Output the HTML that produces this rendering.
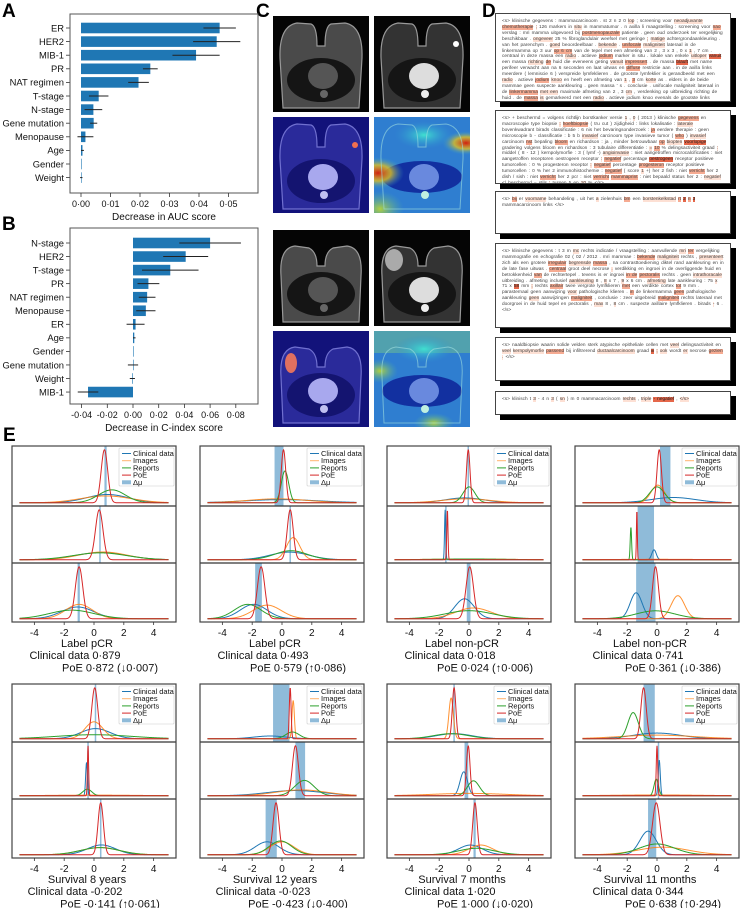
<!DOCTYPE html>
<html><head><meta charset="utf-8">
<style>
body{margin:0;background:#fff;}
#root{position:relative;width:740px;height:908px;overflow:hidden;font-family:"Liberation Sans",sans-serif;background:#fff;}
.pl{position:absolute;font-weight:bold;font-size:19px;color:#000;}
.box{position:absolute;left:495px;width:222px;border:1px solid #444;background:#fff;box-shadow:5px 5px 0 #000;padding:5px 6px;font-size:4.75px;line-height:5.9px;color:#444;word-spacing:0.8px;overflow:hidden;}
.a{background:#fde0d4;}.b{background:#f6ab92;}.c{background:#e5674a;color:#222;}
svg{position:absolute;left:0;top:0;}
</style></head><body>
<div id="root">
<div class="pl" style="left:2px;top:1px">A</div>
<div class="pl" style="left:2px;top:214px">B</div>
<div class="pl" style="left:256px;top:1px">C</div>
<div class="pl" style="left:482px;top:1px">D</div>
<div class="pl" style="left:3px;top:425px">E</div>

<svg id="mri" width="740" height="908">
<defs>
<clipPath id="imgClip"><rect x="0" y="0" width="96" height="96"/></clipPath>
<radialGradient id="rRed" cx="50%" cy="50%" r="50%"><stop offset="0" stop-color="#d02010"/><stop offset=".5" stop-color="#e0c020" stop-opacity=".8"/><stop offset="1" stop-color="#30a0d0" stop-opacity="0"/></radialGradient>
<radialGradient id="rCyan" cx="50%" cy="50%" r="50%"><stop offset="0" stop-color="#40e0d0"/><stop offset="1" stop-color="#3090d0" stop-opacity="0"/></radialGradient>
<radialGradient id="rYel" cx="50%" cy="50%" r="50%"><stop offset="0" stop-color="#b0d040"/><stop offset="1" stop-color="#50b0a0" stop-opacity="0"/></radialGradient>
<path id="torso" d="M10,92 L7,42 Q6,10 24,7 L38,8 Q44,10 44,30 L52,30 Q52,10 58,8 L72,7 Q90,10 89,42 L86,92 Z"/>
<path id="torso2" d="M10,92 L8,46 Q6,18 22,16 L36,18 Q44,22 44,36 L52,36 Q52,22 60,18 L74,16 Q90,18 88,46 L86,92 Z"/>
</defs>
</svg>

<div class="box" style="top:13px;height:77px">&lt;s&gt; klinische gegevens : mammacarcinoom . st 2 n 2 0 <span class="a">lop</span> ; screening voor <span class="a">neoadjuvante</span> <span class="b">chemotherapie</span> <span class="a">;</span> 126 markers in <span class="a">situ</span> in mammatumor . n axilla li maagstelling : screening voor <span class="b">nao</span> verslag : mri mamma uitgevoerd bij <span class="b">postmenopauzale</span> patiente . geen oud onderzoek ter vergelijking beschikbaar . <span class="a">ongeveer</span> 25 % fibroglandulair weefsel met geringe <span class="a">;</span> <span class="a">matige</span> achtergrondaankleuring . van het parenchym . <span class="a">goed</span> beoordeelbaar . <span class="a">bekende</span> . <span class="b">unifocale</span> <span class="a">maligniteit</span> lateraal in de linkermamma op 3 uur <span class="b">op 6 cm</span> van de tepel met een afmeting van 2 , 3 x 3 , 0 x <span class="a">1</span> , 7 cm . centraal in deze massa een <span class="a">radio</span> . actieve <span class="b">jodium</span> marker in situ . lokale van enkele <span class="a">uitloper</span> <span class="c">vanuit</span> een massa <span class="a">richting</span> <span class="b">de</span> huid die eveneens geting <span class="a">vanuit</span> <span class="b">impressert</span> . de massa <span class="c">blauft</span> met name perifeer verwacht aan na 6 seconden en laat uitwas en <span class="b">diffuse</span> restrictie aan . in de axilla links meerdere ( lemniscie 6 ) verspreide lymfeklieren . de grootste lymfeklier is gerandbeeld met een <span class="a">radio</span> . actieve <span class="b">jodium</span> <span class="a">knoo</span> en heeft een afmeting van <span class="a">1</span> , <span class="b">3</span> cm <span class="a">korte</span> as . elders in de beide mammae geen suspecte aankleuring . geen massa ' s . conclusie . unifocale maligniteit lateraal in de <span class="b">linkermamma</span> <span class="a">met een</span> maximale afmeting van 2 , 3 <span class="a">cm</span> , verdenking op uitbreiding richting de huid . de <span class="b">massa</span> <span class="a">is</span> gemarkeerd met een <span class="a">radio</span> . actieve jodium knoo evenals de grootste links axillaire lymfeklier ( er zijn <span class="a">meerdere</span> 6 verspreide axillaire lymfeklieren links ). in <span class="b">de rechtermamma</span> <span class="a">geen</span> aanwijzingen <span class="a">voor</span> pathologie . birads <span class="a">6</span> . &lt;/s&gt;</div>

<div class="box" style="top:110px;height:62px">&lt;s&gt; + beschermd = volgens richtlijn borstkanker versie <span class="a">1</span> , <span class="a">0</span> ( 2013 ) klinische <span class="b">gegevens</span> en macroscopie type biopsie <span class="a">:</span> <span class="b">hoeftbiopsie</span> ( tru cut ) zijdigheid : links lokalisatie : <span class="a">laterale</span> bovenkwadrant birads classificatie : 6 nis het bevaringsonderzoek : <span class="b">ja</span> eerdere therapie : geen microscopie b - classificatie : b 5 b <span class="a">invasief</span> carcinoom type invasieve tumor ( <span class="b">who</span> ) <span class="a">invasief</span> carcinoom <span class="b">nst</span> bepaling <span class="b">bloom</span> en richardson : ja , minder betrouwbaar <span class="b">op</span> <span class="a">biopten</span> <span class="c">voorlopige</span> gradering volgens bloom en richardson : 3 tubulaire differentiatie : <span class="a">=</span> <span class="b">10</span> % delingsactiviteit graad <span class="a">:</span> middel ( 8 - 12 ) kernpolymorfie : 3 ( lymf -) <span class="a">angioinvasie</span> : niet aangetroffen microcalcificaties : niet aangetroffen receptoren oestrogeen receptor <span class="a">:</span> <span class="b">negatief</span> percentage <span class="c">oestrogeen</span> receptor positieve tumorcellen : 0 % progesteron receptor <span class="a">:</span> <span class="b">negatief</span> percentage <span class="b">progesteron</span> receptor positieve tumorcellen : 0 % her 2 immunohistochemie : <span class="b">negatief</span> ( score <span class="a">1</span> +) her 2 fish : niet <span class="b">verricht</span> her 2 dish / sish : niet <span class="b">verricht</span> her 2 pcr : niet <span class="b">verricht</span> <span class="b">mammaprint</span> : niet bepaald status her 2 : <span class="a">negatief</span> &lt;/ beschermd = stils <span class="a">:</span> tussen 5 en <span class="a">10</span> % &lt;/s&gt;</div>

<div class="box" style="top:191px;height:31px">&lt;s&gt; <span class="b">bij</span> er <span class="a">voorname</span> behandeling , uit het <span class="a">a</span> zielenhuis <span class="b">bm</span> een <span class="a">borstenkelkstad</span> <span class="b">rt</span> <span class="c">2</span> <span class="b">n</span> <span class="c">3</span> mammacarcinoom links &lt;/s&gt;</div>

<div class="box" style="top:243px;height:73px">&lt;s&gt; klinische gegevens : t 3 m <span class="a">mc</span> rechts indicatie / vraagstelling : aanvullende <span class="a">mri</span> <span class="b">ter</span> vergelijking mammografie en echografie 02 ( 02 / 2012 . mri mammae : <span class="b">bekende</span> <span class="a">maligniteit</span> rechts , <span class="a">presenteert</span> zich als een grotere <span class="b">irregulair</span> <span class="a">begrensde</span> <span class="b">massa</span> , na contrasttoediening diktel rand aankleuring en in de late fase uitwas . <span class="b">centraal</span> groot deel necrose <span class="a">.</span> verdikking en ingroei in de overliggende huid en betrokkenheid <span class="b">van</span> de rechtertepel . tevens is er ingroei <span class="b">in de</span> <span class="b">pectoralis</span> rechts . geen <span class="a">intrathoracale</span> uitbreiding . afmeting inclusief <span class="a">aankleuring</span> 8 , <span class="a">8</span> x 7 , <span class="a">9</span> x 6 cm . <span class="a">afmeting</span> late aankleuring : 75 <span class="a">x</span> 71 x <span class="c">58</span> mm <span class="a">;</span> rechts <span class="b">axillair</span> twee vergrote lymfklieren <span class="b">met</span> een verdikte cortex <span class="b">tot</span> 9 mm . parasternaal geen aanwijzing <span class="a">voor</span> pathologische klieren . <span class="b">in</span> de linkermamma <span class="b">geen</span> pathologische aankleuring <span class="a">geen</span> aanwijzingen <span class="b">maligniteit</span> , conclusie : zeer uitgebreid <span class="b">maligniteit</span> rechts lateraal met doorgroei in de huid tepel en pectoralis , <span class="a">max</span> 8 , <span class="a">8</span> cm . suspecte axillaire lymfklieren . birads <span class="a">-</span> 6 . &lt;/s&gt;</div>

<div class="box" style="top:337px;height:32px">&lt;s&gt; naaldbiopsie waarin solide velden sterk atypische epitheliale cellen met <span class="a">veel</span> delingsactiviteit en <span class="a">veel</span> <span class="a">kernpolymorfie</span> <span class="b">passend</span> bij infiltrerend <span class="a">ductaalcarcinoom</span> graad <span class="c">iii</span> <span class="a">;</span> <span class="a">ook</span> wordt <span class="a">er</span> necrose <span class="b">gezien</span> <span class="a">.</span> &lt;/s&gt;</div>

<div class="box" style="top:391px;height:12px">&lt;s&gt; klinisch t <span class="a">3</span> - 4 n <span class="a">3</span> ( <span class="a">sn</span> ) m 0 mammacarcinoom <span class="a">rechts</span> , <span class="a">triple</span> <span class="c">- negatief</span> , <span class="a">&lt;/s&gt;</span></div>

<svg id="charts" width="740" height="908"></svg>
</div>

<script>
// ---------- Panel A data ----------
const aCats=["ER","HER2","MIB-1","PR","NAT regimen","T-stage","N-stage","Gene mutation","Menopause","Age","Gender","Weight"];
const aVals=[0.047,0.046,0.039,0.0235,0.0195,0.006,0.0042,0.0043,0.0015,0.0005,0,0.0001];
const aErr=[0.0055,0.008,0.008,0.0025,0.0035,0.0033,0.003,0.0012,0.0027,0.0005,0,0.0004];
const aTicks=[0,0.01,0.02,0.03,0.04,0.05];
const aTickLabels=["0·00","0·01","0·02","0·03","0·04","0·05"];
// ---------- Panel B data ----------
const bCats=["N-stage","HER2","T-stage","PR","NAT regimen","Menopause","ER","Age","Gender","Gene mutation","Weight","MIB-1"];
const bVals=[0.060,0.041,0.029,0.012,0.011,0.010,0.002,0.001,0,0,-0.0005,-0.035];
const bErr=[0.024,0.0175,0.022,0.0085,0.0065,0.0075,0.007,0.001,0,0.004,0.002,0.008];
const bTicks=[-0.04,-0.02,0,0.02,0.04,0.06,0.08];
const bTickLabels=["-0·04","-0·02","0·00","0·02","0·04","0·06","0·08"];
// ---------- Panel E data: 8 subplots x 3 rows ----------
const muClin=[[0.9,0.5,-1.1],[0.0,0.5,-1.9],[-0.3,-1.6,-0.3],[1.1,-0.2,-1.4],[0.1,-0.5,0.5],[-0.8,0.9,-1.0],[-1.0,-0.35,0.1],[0.0,0.15,-0.6]];
const sdClin=[[1.4,1.7,1.1],[2.5,1.3,0.9],[1.3,0.04,0.65],[1.5,0.15,0.4],[1.0,0.06,0.95],[1.1,1.9,0.8],[1.2,0.25,0.8],[1.6,0.07,0.55]];
const muImg=[[0.8,0.6,-1.0],[-0.3,0.75,-1.0],[-0.2,0,0.3],[0.05,0,1.4],[0,0,0.4],[0.75,1.3,0],[-1.2,0,0.8],[0,0,0.4]];
const sdImg=[[1.7,1.6,0.9],[2.0,0.45,0.95],[1.6,3,1.2],[0.45,3,0.45],[0.6,3,1.3],[0.08,1.7,0.8],[0.15,2.5,0.8],[2.5,3,1.7]];
const muRep=[[1.2,0.4,-1.5],[0.2,0.6,-2.3],[0.0,0,0],[0.0,-1.75,-0.1],[0,-0.45,0.4],[0.7,1.5,-0.1],[-1.2,0.3,0.5],[-1.6,-0.05,0]];
const sdRep=[[0.9,1.8,1.5],[0.25,1.1,0.9],[0.4,2.5,1.6],[0.5,0.046,1.3],[2.5,0.3,1.3],[0.45,0.65,0.75],[1.2,0.4,1.2],[0.35,0.15,1.2]];
const muPoe=[[0.7,0.35,-1.0],[0.1,0.55,-1.4],[-0.05,-1.45,0.05],[0.15,-1.35,-0.1],[0.05,-0.4,0.45],[0.55,0.9,-0.4],[-1.0,-0.05,0.4],[-0.9,0,-0.05]];
const sdPoe=[[0.22,0.25,0.25],[0.15,0.2,0.25],[0.12,0.04,0.25],[0.15,0.03,0.2],[0.2,0.04,0.18],[0.06,0.2,0.2],[0.12,0.12,0.15],[0.18,0.05,0.25]];
const bandLo=[[0.7,0.35,-1.1],[-0.5,0.5,-1.8],[-0.1,-1.6,-0.15],[0.2,-1.3,-1.4],[0.05,-0.45,0.4],[-0.6,0.9,-1.1],[-1.05,-0.3,0.3],[-0.9,0.05,-0.6]];
const bandHi=[[0.85,0.45,-0.95],[0.1,0.6,-1.35],[0.0,-1.5,0.1],[0.9,-0.2,-0.1],[0.1,-0.4,0.5],[0.5,1.55,-0.35],[-0.95,-0.05,0.45],[-0.15,0.15,-0.05]];
const eLabels=["Label pCR","Label pCR","Label non-pCR","Label non-pCR","Survival 8 years","Survival 12 years","Survival 7 months","Survival 11 months"];
const eClinText=["Clinical data 0·879","Clinical data 0·493","Clinical data 0·018","Clinical data 0·741","Clinical data -0·202","Clinical data -0·023","Clinical data 1·020","Clinical data 0·344"];
const ePoeText=["PoE 0·872 (↓0·007)","PoE 0·579 (↑0·086)","PoE 0·024 (↑0·006)","PoE 0·361 (↓0·386)","PoE -0·141 (↑0·061)","PoE -0·423 (↓0·400)","PoE 1·000 (↓0·020)","PoE 0·638 (↑0·294)"];
const eTicks=[-4,-2,0,2,4];
const seriesNames=["Clinical data","Images","Reports","PoE"];

const NS="http://www.w3.org/2000/svg";
const svg=document.getElementById('charts');
function mk(tag,attrs,parent){const e=document.createElementNS(NS,tag);for(const k in attrs)e.setAttribute(k,attrs[k]);(parent||svg).appendChild(e);return e;}
function txt(s,x,y,size,anchor,parent){const t=mk('text',{x:x,y:y,'font-size':size,'text-anchor':anchor||'start','font-family':'Liberation Sans, sans-serif',fill:'#111'},parent);t.textContent=s;return t;}

function barChart(cats,vals,errs,ticks,tlabels,box,x0,k,y0,dy,xlabel,prefix){
  const g=mk('g',{});
  
  
  const xs=v=>x0+v*k;
  cats.forEach((c,i)=>{
    const y=y0+i*dy;
    const b=mk('rect',{x:Math.min(xs(0),xs(vals[i])),y:y-5.3,width:Math.max(Math.abs(xs(vals[i])-xs(0)),0.6),height:10.6,fill:'#1f77b4'},g);
    
    
    if(errs[i]>0){const e=mk('line',{x1:xs(vals[i]-errs[i]),x2:xs(vals[i]+errs[i]),y1:y,y2:y,stroke:'#222','stroke-width':1},g);
      
      }
    mk('line',{x1:box[0]-4,x2:box[0],y1:y,y2:y,stroke:'#333','stroke-width':0.8},g);
    const l=txt(c,box[0]-6,y+3.3,9.4,'end',g);
    
    
  });
  const f=mk('rect',{x:box[0],y:box[1],width:box[2]-box[0],height:box[3]-box[1],fill:'none',stroke:'#555','stroke-width':1},g);
  
  
  ticks.forEach((t,i)=>{
    mk('line',{x1:xs(t),x2:xs(t),y1:box[3],y2:box[3]+4,stroke:'#333','stroke-width':0.8},g);
    const tl=txt(tlabels[i],xs(t),box[3]+14,9,'middle',g);
    
    
  });
  const xl=txt(xlabel,(box[0]+box[2])/2,box[3]+27,10,'middle',g);
  
  
}
barChart(aCats,aVals,aErr,aTicks,aTickLabels,[70,14,258,193],81,2950,28,13.6,"Decrease in AUC score","panel-a");
barChart(bCats,bVals,bErr,bTicks,bTickLabels,[70,228,258,404],133,1285,243,13.55,"Decrease in C-index score","panel-b");

// ---------- Panel E ----------
const colors=["#1f77b4","#ff7f0e","#2ca02c","#d62728"];
const colX=[12,200,387,575];
const blocks=[{splits:[446,506,563,622]},{splits:[684,742,799,858]}];
function gauss(x,m,s){return Math.exp(-0.5*((x-m)/s)**2)/s;}
for(let k=0;k<8;k++){
  const L=colX[k%4], W=164, sp=blocks[Math.floor(k/4)].splits;
  const xs=v=>L+(v+5.5)/11*W;
  const g=mk('g',{});
  
  
  for(let r=0;r<3;r++){
    const T=sp[r],B=sp[r+1],H=B-T;
    const mus=[muClin[k][r],muImg[k][r],muRep[k][r],muPoe[k][r]];
    const sds=[sdClin[k][r],sdImg[k][r],sdRep[k][r],sdPoe[k][r]];
    const mx=Math.max(...sds.map(s=>1/s));
    const ys=d=>B-3.2-(d/mx)*(H-7);
    const band=mk('rect',{x:xs(bandLo[k][r]),y:T,width:Math.max(xs(bandHi[k][r])-xs(bandLo[k][r]),1.5),height:H,fill:'#1f77b4','fill-opacity':0.5},g);
    
    
    for(let s=0;s<4;s++){
      let d='';
      for(let i=0;i<=500;i++){const x=-5+i*0.02;d+=(i?'L':'M')+xs(x).toFixed(2)+','+ys(gauss(x,mus[s],sds[s])).toFixed(2);}
      const p=mk('path',{d:d,fill:'none',stroke:colors[s],'stroke-width':1,'stroke-opacity':s==1?0.85:1},g);
      
      
    }
    if(r>0)mk('line',{x1:L,x2:L+W,y1:T,y2:T,stroke:'#333','stroke-width':1.2},g);
  }
  const fr=mk('rect',{x:L,y:sp[0],width:W,height:sp[3]-sp[0],fill:'none',stroke:'#444','stroke-width':1.2},g);
  
  
  const lg=mk('g',{},g);
  
  
  const lx=L+W-57, ly=sp[0]+2;
  mk('rect',{x:lx,y:ly,width:55,height:38,fill:'#fff','fill-opacity':0.85,stroke:'#ccc','stroke-width':0.6,rx:1},lg);
  const names=[...seriesNames,"Δμ"];
  names.forEach((n,i)=>{
    const yy=ly+5.5+i*7.2;
    if(i<4)mk('line',{x1:lx+3,x2:lx+12,y1:yy,y2:yy,stroke:colors[i],'stroke-width':1,'stroke-opacity':i==1?0.6:1},lg);
    else mk('rect',{x:lx+3,y:yy-2,width:9,height:4,fill:'#1f77b4','fill-opacity':0.5},lg);
    const e=txt(n,lx+14,yy+2.5,7.5,'start',lg);
    
    
  });
  eTicks.forEach(t=>{
    mk('line',{x1:xs(t),x2:xs(t),y1:sp[3],y2:sp[3]+3,stroke:'#333','stroke-width':0.8},g);
    const tl=txt(String(t),xs(t),sp[3]+14,10,'middle',g);
    
    
  });
  const a=txt(eLabels[k],L+75,sp[3]+25,11,'middle',g);
  
  
  const c=txt(eClinText[k],L+63,sp[3]+37,11,'middle',g);
  
  
  const pz=txt(ePoeText[k],L+98,sp[3]+49.5,11,'middle',g);
  
  
}

// ---------- Panel C (MRI approximations) ----------
const mri=document.getElementById('mri');
const imgX=[273,374], imgY=[16,117,230,331];
const kinds=["t1","sub","attn","cam"];
for(let b=0;b<2;b++){for(let j=0;j<2;j++){for(let c=0;c<2;c++){
  const kind=kinds[j*2+c], X=imgX[c], Y=imgY[b*2+j];
  const outer=mk('g',{transform:'translate('+X+','+Y+')'},mri);
  
  
  const g=mk('g',{'clip-path':'url(#imgClip)'},outer);
  const shape=b==0?'#torso':'#torso2';
  if(kind=='t1'||kind=='sub'){
    mk('rect',{x:0,y:0,width:96,height:96,fill:'#050505'},g);
    mk('use',{href:shape,fill:kind=='t1'?'#4a4a4a':'#333',stroke:'#999','stroke-width':1.2},g);
    mk('ellipse',{cx:48,cy:64,rx:34,ry:22,fill:'#151515'},g);
    mk('ellipse',{cx:50,cy:60,rx:15,ry:13,fill:kind=='t1'?'#555':'#ddd'},g);
    mk('circle',{cx:51,cy:78,r:4,fill:kind=='t1'?'#666':'#eee'},g);
    if(b==0&&kind=='sub')mk('circle',{cx:82,cy:28,r:3,fill:'#fff'},g);
    if(b==1&&kind=='sub')mk('ellipse',{cx:20,cy:30,rx:9,ry:11,fill:'#aaa'},g);
  }else if(kind=='attn'){
    mk('rect',{x:0,y:0,width:96,height:96,fill:'#12127a'},g);
    mk('use',{href:shape,fill:'#2a2a9a',stroke:'#7070d0','stroke-width':1.2},g);
    mk('ellipse',{cx:48,cy:64,rx:34,ry:22,fill:'#141470'},g);
    mk('ellipse',{cx:50,cy:60,rx:15,ry:13,fill:'#a8a8ee'},g);
    mk('circle',{cx:51,cy:78,r:4,fill:'#c0c0f0'},g);
    if(b==0)mk('circle',{cx:82,cy:28,r:3,fill:'#f07050'},g);
    else mk('ellipse',{cx:18,cy:32,rx:6,ry:10,fill:'#e07060'},g);
  }else{
    mk('rect',{x:0,y:0,width:96,height:96,fill:'#2f7ed0'},g);
    mk('ellipse',{cx:48,cy:60,rx:40,ry:16,fill:'#1230a0'},g);
    if(b==0){mk('ellipse',{cx:4,cy:56,rx:26,ry:16,fill:'url(#rRed)'},g);
      mk('ellipse',{cx:92,cy:26,rx:24,ry:12,fill:'url(#rRed)'},g);
      mk('ellipse',{cx:6,cy:92,rx:24,ry:18,fill:'url(#rYel)'},g);}
    else{mk('rect',{x:0,y:0,width:96,height:22,fill:'#60b0a0','fill-opacity':0.7},g);
      mk('ellipse',{cx:6,cy:40,rx:18,ry:12,fill:'url(#rYel)'},g);
      mk('ellipse',{cx:60,cy:92,rx:20,ry:10,fill:'url(#rYel)'},g);}
    mk('ellipse',{cx:50,cy:18,rx:30,ry:14,fill:'url(#rCyan)'},g);
    mk('use',{href:shape,fill:'none',stroke:'#a0e0e0','stroke-width':1,'stroke-opacity':0.6},g);
    mk('ellipse',{cx:50,cy:60,rx:15,ry:13,fill:'#7fa0ee','fill-opacity':0.8},g);
    mk('circle',{cx:51,cy:78,r:4,fill:'#c0f0e0'},g);
  }
}}}
</script>
</body></html>
